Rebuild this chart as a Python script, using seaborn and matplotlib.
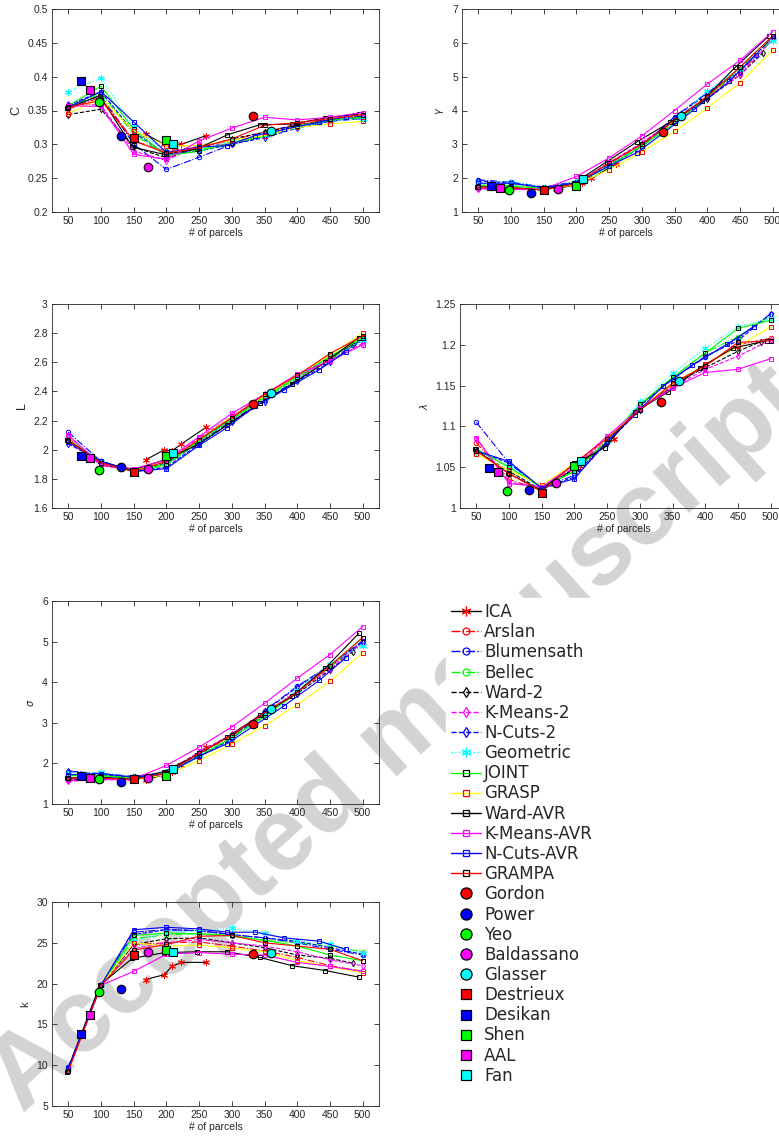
import numpy as np
import pandas as pd
import seaborn as sns
import matplotlib.pyplot as plt
from matplotlib.lines import Line2D
from matplotlib.ticker import FuncFormatter, MultipleLocator

# ---------------- data ----------------
methods = ["ICA", "Arslan", "Blumensath", "Bellec", "Ward-2", "K-Means-2", "N-Cuts-2",
           "Geometric", "JOINT", "GRASP", "Ward-AVR", "K-Means-AVR", "N-Cuts-AVR", "GRAMPA"]

x_nominal = [50, 100, 150, 200, 250, 300, 350, 400, 450, 500]
x_ica = [168, 197, 208, 223, 261]
x_ward2 = [50, 100, 150, 200, 250, 300, 350, 400, 450, 485]
x_ward_avr = [48, 98, 148, 197, 246, 293, 343, 392, 443, 494]
x_ncuts_avr = [50, 100, 150, 200, 250, 292, 336, 380, 434, 474]

C_vals = [
    [0.315, 0.300, 0.297, 0.300, 0.313],
    [0.352, 0.370, 0.305, 0.290, 0.296, 0.306, 0.318, 0.330, 0.336, 0.340],
    [0.356, 0.372, 0.300, 0.263, 0.281, 0.300, 0.312, 0.326, 0.334, 0.338],
    [0.355, 0.375, 0.315, 0.283, 0.292, 0.303, 0.312, 0.326, 0.335, 0.340],
    [0.344, 0.352, 0.296, 0.280, 0.295, 0.308, 0.318, 0.328, 0.336, 0.342],
    [0.360, 0.358, 0.290, 0.276, 0.300, 0.300, 0.314, 0.326, 0.335, 0.344],
    [0.358, 0.378, 0.318, 0.285, 0.290, 0.300, 0.310, 0.324, 0.334, 0.342],
    [0.378, 0.398, 0.325, 0.288, 0.294, 0.304, 0.314, 0.325, 0.334, 0.338],
    [0.357, 0.386, 0.322, 0.283, 0.290, 0.302, 0.312, 0.327, 0.336, 0.340],
    [0.345, 0.368, 0.320, 0.298, 0.298, 0.306, 0.313, 0.325, 0.330, 0.334],
    [0.353, 0.372, 0.296, 0.285, 0.293, 0.314, 0.329, 0.330, 0.339, 0.345],
    [0.357, 0.356, 0.285, 0.278, 0.305, 0.324, 0.340, 0.336, 0.340, 0.347],
    [0.355, 0.378, 0.333, 0.288, 0.296, 0.298, 0.313, 0.322, 0.333, 0.341],
    [0.355, 0.365, 0.305, 0.287, 0.295, 0.308, 0.328, 0.332, 0.338, 0.344],
]

gamma_vals = [
    [1.68, 1.80, 1.85, 2.00, 2.42],
    [1.72, 1.70, 1.66, 1.85, 2.42, 3.02, 3.68, 4.38, 5.12, 6.10],
    [1.95, 1.88, 1.74, 1.90, 2.38, 2.95, 3.82, 4.52, 5.20, 6.15],
    [1.80, 1.78, 1.70, 1.86, 2.38, 2.95, 3.62, 4.40, 5.22, 6.12],
    [1.70, 1.70, 1.65, 1.84, 2.45, 3.02, 3.70, 4.35, 5.05, 5.70],
    [1.68, 1.68, 1.64, 1.86, 2.46, 3.05, 3.72, 4.40, 5.05, 6.10],
    [1.92, 1.85, 1.72, 1.88, 2.36, 2.92, 3.78, 4.50, 5.15, 6.18],
    [1.85, 1.90, 1.72, 1.88, 2.38, 2.95, 3.70, 4.58, 5.25, 6.05],
    [1.78, 1.76, 1.70, 1.85, 2.35, 2.95, 3.62, 4.40, 5.28, 6.20],
    [1.73, 1.70, 1.65, 1.82, 2.25, 2.78, 3.38, 4.07, 4.82, 5.78],
    [1.75, 1.72, 1.66, 1.86, 2.48, 3.08, 3.65, 4.28, 5.28, 6.20],
    [1.70, 1.66, 1.68, 2.05, 2.60, 3.25, 4.00, 4.78, 5.48, 6.33],
    [1.85, 1.85, 1.72, 1.85, 2.36, 2.75, 3.38, 4.03, 4.87, 5.65],
    [1.74, 1.72, 1.65, 1.84, 2.45, 3.00, 3.70, 4.42, 5.28, 6.20],
]

L_vals = [
    [1.93, 2.00, 1.99, 2.04, 2.155],
    [2.08, 1.90, 1.86, 1.92, 2.07, 2.22, 2.37, 2.50, 2.63, 2.76],
    [2.12, 1.92, 1.86, 1.90, 2.05, 2.20, 2.34, 2.48, 2.62, 2.75],
    [2.07, 1.91, 1.855, 1.89, 2.06, 2.21, 2.35, 2.49, 2.62, 2.76],
    [2.06, 1.90, 1.855, 1.91, 2.06, 2.22, 2.37, 2.50, 2.64, 2.72],
    [2.09, 1.89, 1.86, 1.92, 2.08, 2.23, 2.38, 2.50, 2.61, 2.73],
    [2.04, 1.92, 1.85, 1.88, 2.04, 2.19, 2.33, 2.47, 2.60, 2.76],
    [2.08, 1.92, 1.86, 1.90, 2.05, 2.21, 2.36, 2.50, 2.63, 2.75],
    [2.06, 1.91, 1.86, 1.90, 2.06, 2.21, 2.36, 2.50, 2.64, 2.77],
    [2.07, 1.91, 1.86, 1.92, 2.07, 2.23, 2.37, 2.51, 2.65, 2.80],
    [2.07, 1.92, 1.86, 1.93, 2.03, 2.17, 2.32, 2.45, 2.60, 2.77],
    [2.10, 1.90, 1.87, 1.93, 2.09, 2.25, 2.38, 2.52, 2.61, 2.72],
    [2.05, 1.92, 1.85, 1.87, 2.03, 2.15, 2.30, 2.41, 2.55, 2.67],
    [2.06, 1.91, 1.85, 1.92, 2.07, 2.22, 2.38, 2.51, 2.66, 2.78],
]

lambda_vals = [
    [1.030, 1.048, 1.052, 1.062, 1.084],
    [1.080, 1.035, 1.022, 1.050, 1.082, 1.120, 1.150, 1.175, 1.200, 1.208],
    [1.105, 1.055, 1.025, 1.040, 1.082, 1.125, 1.158, 1.185, 1.208, 1.238],
    [1.072, 1.050, 1.025, 1.045, 1.082, 1.126, 1.160, 1.190, 1.210, 1.235],
    [1.070, 1.045, 1.022, 1.048, 1.080, 1.120, 1.152, 1.172, 1.192, 1.204],
    [1.085, 1.032, 1.024, 1.050, 1.086, 1.122, 1.148, 1.170, 1.186, 1.206],
    [1.070, 1.055, 1.024, 1.038, 1.080, 1.126, 1.158, 1.186, 1.205, 1.238],
    [1.068, 1.052, 1.026, 1.045, 1.082, 1.130, 1.165, 1.196, 1.222, 1.232],
    [1.072, 1.050, 1.025, 1.045, 1.082, 1.127, 1.160, 1.190, 1.220, 1.230],
    [1.066, 1.046, 1.028, 1.055, 1.086, 1.122, 1.152, 1.176, 1.198, 1.222],
    [1.072, 1.043, 1.022, 1.052, 1.074, 1.118, 1.142, 1.172, 1.196, 1.205],
    [1.086, 1.030, 1.026, 1.053, 1.088, 1.122, 1.147, 1.166, 1.170, 1.183],
    [1.070, 1.057, 1.024, 1.036, 1.082, 1.114, 1.150, 1.175, 1.201, 1.222],
    [1.070, 1.042, 1.020, 1.055, 1.085, 1.120, 1.153, 1.174, 1.203, 1.205],
]

sigma_vals = [
    [1.60, 1.72, 1.78, 1.95, 2.40],
    [1.62, 1.62, 1.60, 1.78, 2.24, 2.68, 3.20, 3.75, 4.38, 4.95],
    [1.80, 1.75, 1.68, 1.78, 2.20, 2.62, 3.30, 3.90, 4.42, 5.02],
    [1.70, 1.70, 1.64, 1.76, 2.18, 2.62, 3.18, 3.78, 4.38, 4.95],
    [1.60, 1.62, 1.60, 1.78, 2.26, 2.70, 3.22, 3.72, 4.30, 4.75],
    [1.56, 1.60, 1.58, 1.80, 2.28, 2.72, 3.25, 3.78, 4.32, 4.98],
    [1.82, 1.72, 1.66, 1.76, 2.16, 2.60, 3.28, 3.88, 4.40, 5.00],
    [1.75, 1.78, 1.66, 1.78, 2.20, 2.65, 3.20, 3.82, 4.45, 4.90],
    [1.70, 1.70, 1.64, 1.75, 2.18, 2.64, 3.15, 3.75, 4.40, 5.10],
    [1.64, 1.62, 1.60, 1.72, 2.07, 2.48, 2.93, 3.45, 4.02, 4.73],
    [1.64, 1.66, 1.62, 1.80, 2.20, 2.65, 3.18, 3.65, 4.35, 5.20],
    [1.58, 1.60, 1.62, 1.95, 2.40, 2.90, 3.48, 4.10, 4.68, 5.37],
    [1.72, 1.75, 1.66, 1.74, 2.18, 2.48, 2.95, 3.42, 4.05, 4.60],
    [1.63, 1.64, 1.60, 1.76, 2.25, 2.70, 3.25, 3.75, 4.40, 5.10],
]

k_vals = [
    [20.5, 21.1, 22.1, 22.6, 22.6],
    [9.5, 19.8, 24.8, 25.0, 25.1, 24.6, 24.0, 23.2, 22.2, 21.5],
    [9.8, 19.8, 26.3, 26.6, 26.5, 26.0, 25.6, 25.0, 24.2, 23.5],
    [9.5, 19.8, 25.5, 26.0, 26.1, 25.8, 25.3, 25.0, 24.6, 23.9],
    [9.5, 19.8, 24.8, 25.5, 25.6, 25.0, 24.4, 23.5, 23.1, 22.5],
    [9.5, 19.8, 24.3, 25.0, 25.4, 25.0, 24.6, 23.9, 22.9, 22.2],
    [9.6, 19.8, 26.0, 26.6, 26.5, 26.0, 25.6, 25.2, 24.4, 23.6],
    [9.5, 19.8, 25.2, 26.3, 26.4, 26.8, 26.2, 25.2, 24.8, 23.7],
    [9.4, 19.8, 25.9, 26.2, 26.1, 25.9, 25.3, 24.6, 23.5, 22.8],
    [9.3, 19.8, 25.0, 24.6, 24.7, 24.4, 23.9, 22.8, 22.1, 21.3],
    [9.2, 19.8, 23.1, 23.8, 23.9, 23.9, 23.2, 22.2, 21.6, 20.8],
    [9.4, 19.8, 21.5, 23.6, 23.8, 23.6, 23.5, 22.6, 22.1, 21.5],
    [9.6, 19.8, 26.6, 26.9, 26.7, 26.3, 26.3, 25.6, 25.2, 24.2],
    [9.3, 19.8, 24.1, 24.8, 25.8, 25.9, 25.0, 24.6, 24.2, 22.8],
]

atlases = ["Gordon", "Power", "Yeo", "Baldassano", "Glasser",
           "Destrieux", "Desikan", "Shen", "AAL", "Fan"]
atlas_x = [333, 130, 97, 172, 360, 150, 70, 200, 83, 210]
atlas_C = [0.342, 0.312, 0.363, 0.266, 0.319, 0.309, 0.393, 0.306, 0.381, 0.300]
atlas_gamma = [3.37, 1.57, 1.66, 1.69, 3.85, 1.64, 1.77, 1.77, 1.70, 1.97]
atlas_L = [2.316, 1.880, 1.864, 1.866, 2.392, 1.848, 1.958, 1.958, 1.944, 1.979]
atlas_lambda = [1.1295, 1.0217, 1.0205, 1.0311, 1.1553, 1.0184, 1.0488, 1.0512, 1.0439, 1.0578]
atlas_sigma = [2.98, 1.54, 1.61, 1.65, 3.34, 1.62, 1.68, 1.68, 1.64, 1.86]
atlas_k = [23.6, 19.3, 19.0, 23.9, 23.8, 23.5, 13.8, 24.1, 16.2, 23.9]

# ---------------- styles ----------------
line_x = [x_ica] + [x_nominal] * 3 + [x_ward2] + [x_nominal] * 5 + [x_ward_avr, x_nominal, x_ncuts_avr, x_nominal]
line_col = ['k', 'r', 'b', '#00ff00', 'k', '#ff00ff', 'b', '#00ffff',
            '#00ff00', '#ffff00', 'k', '#ff00ff', 'b', 'r']
line_ls = ['-', '-.', '-.', '-.', '--', '--', '--', ':', '-', '-', '-', '-', '-', '-']
ASTER = (6, 2, 0)
mk = [ASTER, 'o', 'o', 'o', 'd', 'd', 'd', ASTER, 's', 's', 's', 's', 's', 's']
mk_col = ['r', 'r', 'b', '#00ff00', 'k', '#ff00ff', 'b', '#00ffff',
          'k', 'r', 'k', '#ff00ff', 'b', 'k']
atlas_col = ['r', 'b', '#00ff00', '#ff00ff', '#00ffff', 'r', 'b', '#00ff00', '#ff00ff', '#00ffff']
atlas_mk = ['o'] * 5 + ['s'] * 5

sns.set_style("ticks")
plt.rcParams['font.family'] = ['Liberation Sans', 'DejaVu Sans']
plt.rcParams['mathtext.fontset'] = 'dejavusans'

W, H = 779, 1138
fig = plt.figure(figsize=(W / 100, H / 100), dpi=100)

# watermark
fig.text(398 / W, 1 - 740 / H, "Accepted manuscript", rotation=42, fontsize=75,
         fontweight='bold', color='#d3d3d3', ha='center', va='center',
         rotation_mode='anchor', zorder=-1)


def rect(l, t, r, b):
    return [l / W, 1 - b / H, (r - l) / W, (b - t) / H]


def fmt(v, pos):
    return '%g' % round(v, 4)


panels = [
    (C_vals, atlas_C, 'C', (0.2, 0.5), 0.05, rect(52, 9, 379, 212), 9),
    (gamma_vals, atlas_gamma, r'$\gamma$', (1, 7), 1, rect(462, 9, 789, 212), 7),
    (L_vals, atlas_L, 'L', (1.6, 3.0), 0.2, rect(52, 304, 379, 508), 9),
    (lambda_vals, atlas_lambda, r'$\lambda$', (1, 1.25), 0.05, rect(460, 304, 787, 508), 7),
    (sigma_vals, atlas_sigma, r'$\sigma$', (1, 6), 1, rect(52, 601, 379, 804), 7),
    (k_vals, atlas_k, 'k', (5, 30), 5, rect(52, 902, 379, 1106), 8),
]

for vals, avals, ylab, ylim, ystep, r, ysz in panels:
    ax = fig.add_axes(r)
    ax.set_facecolor('none')
    for i in range(len(methods)):
        sns.lineplot(x=line_x[i], y=vals[i], ax=ax, color=line_col[i], linestyle=line_ls[i],
                     linewidth=0.8, marker=mk[i], markersize=3.2 if mk[i] != ASTER else 5,
                     markerfacecolor='none', markeredgecolor=mk_col[i], markeredgewidth=0.7,
                     legend=False, zorder=2)
    for j in range(len(atlases)):
        sns.scatterplot(x=[atlas_x[j]], y=[avals[j]], ax=ax, marker=atlas_mk[j],
                        s=38 if atlas_mk[j] == 'o' else 26, color=atlas_col[j],
                        edgecolor='k', linewidth=0.8, legend=False, zorder=3)
    ax.set_xlim(25, 525)
    ax.set_ylim(*ylim)
    ax.xaxis.set_major_locator(MultipleLocator(50))
    ax.yaxis.set_major_locator(MultipleLocator(ystep))
    ax.yaxis.set_major_formatter(FuncFormatter(fmt))
    ax.tick_params(direction='in', top=True, right=True, length=3.5, width=0.6,
                   labelsize=7.5, colors='#262626', pad=3)
    for s in ax.spines.values():
        s.set_linewidth(0.6)
        s.set_color('#262626')
    ax.set_xlabel('# of parcels', fontsize=7.5, color='#262626', labelpad=1)
    ax.set_ylabel(ylab, fontsize=ysz, color='#262626', labelpad=4)

# legend
handles = []
for i in range(len(methods)):
    handles.append(Line2D([], [], color=line_col[i], ls=line_ls[i], lw=1, marker=mk[i],
                          ms=5 if mk[i] != ASTER else 7, mfc='none', mec=mk_col[i], mew=0.9))
for j in range(len(atlases)):
    handles.append(Line2D([], [], ls='none', marker=atlas_mk[j], ms=8 if atlas_mk[j] == 'o' else 6.5,
                          mfc=atlas_col[j], mec='k', mew=0.9))
leg = fig.legend(handles, methods + atlases, loc='upper left',
                 bbox_to_anchor=(446 / W, 1 - 598 / H), frameon=True, facecolor='white',
                 edgecolor='white', framealpha=1, fancybox=False,
                 prop={'family': 'DejaVu Sans', 'size': 12}, labelspacing=0.13,
                 handlelength=1.8, handletextpad=0.2, borderpad=0.3, borderaxespad=0)

fig.savefig('out.png', dpi=100)
